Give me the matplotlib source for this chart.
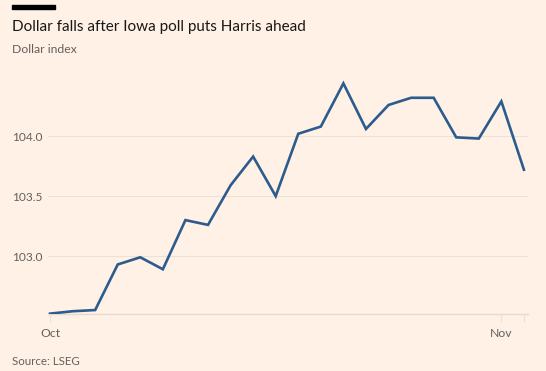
import matplotlib.pyplot as plt
import numpy as np

# Dollar index, daily closes
values = [102.52, 102.54, 102.55, 102.93, 102.99, 102.89, 103.30, 103.26,
          103.59, 103.83, 103.50, 104.02, 104.08, 104.44, 104.06, 104.26,
          104.32, 104.32, 103.99, 103.98, 104.29, 103.72]
x_ticks = [0, 20, 21]
x_labels = ['Oct', 'Nov', '']
y_ticks = [103.0, 103.5, 104.0]

bg = '#fff1e5'
grid = '#ece1d6'
grey = '#66605c'
blue = '#2c5b8e'

plt.rcParams['font.family'] = ['Lato', 'DejaVu Sans']

fig = plt.figure(figsize=(5.46, 3.71), dpi=100, facecolor=bg)
ax = fig.add_axes([48/546, 57/371, 480/546, 239/371], facecolor=bg)

x = np.arange(len(values))
ax.plot(x, values, color=blue, lw=1.9, solid_joinstyle='miter', zorder=3)

ax.set_xlim(-0.09, 21.18)
ax.set_ylim(102.517, 104.51)

for y in y_ticks:
    ax.axhline(y, color=grid, lw=0.8, zorder=1)
ax.axhline(102.517, color='#e6dace', lw=1.0, zorder=1, clip_on=False)

ax.set_yticks(y_ticks)
ax.set_yticklabels([f'{v:.1f}' for v in y_ticks])
ax.set_xticks(x_ticks)
ax.set_xticklabels(x_labels)
ax.tick_params(axis='y', length=0, pad=4, labelsize=8.6, labelcolor=grey)
ax.tick_params(axis='x', length=6, width=0.8, color=grid, pad=4,
               labelsize=8.8, labelcolor=grey)
for s in ax.spines.values():
    s.set_visible(False)

# header
fig.patches.append(plt.Rectangle((12/546, 1 - 8.5/371), 43/546, 3/371,
                                 transform=fig.transFigure, color='black'))
fig.text(12/546, 1 - 30.5/371, 'Dollar falls after Iowa poll puts Harris ahead',
         fontsize=11, color='#1a1817', va='baseline')
fig.text(12/546, 1 - 53.3/371, 'Dollar index', fontsize=8.8, color=grey, va='baseline')
fig.text(12/546, 1 - 365/371, 'Source: LSEG', fontsize=8.3, color=grey, va='baseline')

fig.savefig('out.png', dpi=100, facecolor=bg)
